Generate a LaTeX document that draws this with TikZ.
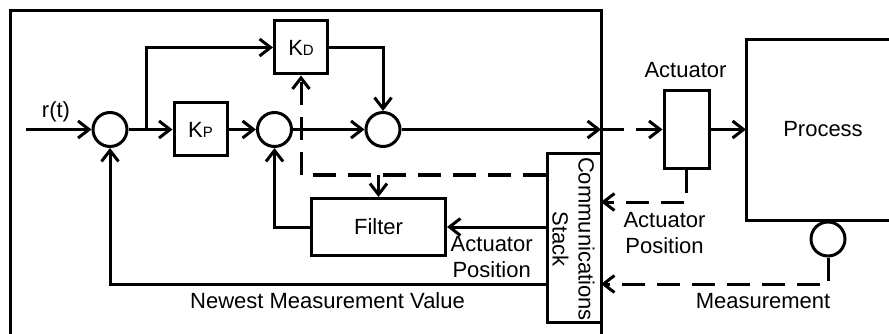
\documentclass[tikz,border=0pt]{standalone}
\usepackage{fontspec}
\setmainfont{Liberation Sans}
\usetikzlibrary{arrows.meta}
\begin{document}
\begin{tikzpicture}[x=1pt,y=-1pt,line width=3pt,
  every node/.style={font=\fontsize{22}{26}\selectfont},
  arr/.style={-{Straight Barb[length=11pt,width=17pt]}},
  sumnode/.style={circle,draw,minimum size=34pt,inner sep=0pt},
  blk/.style={draw,minimum width=53pt,minimum height=53pt,inner sep=0pt},
  dsh/.style={dash pattern=on 23pt off 12pt},
  lbl/.style={align=center,inner sep=0pt}]
\useasboundingbox (0,0) rectangle (889,334);
% outer controller frame
\coordinate (fbl) at (10,334);
\coordinate (ftl) at (10,10.5);
\coordinate (ftr) at (601,10.5);
\coordinate (fbr) at (601,334);
\draw (fbl) -- (ftl) -- (ftr) -- (fbr);
% process frame
\coordinate (ptr) at (889,39.5);
\coordinate (ptl) at (746,39.5);
\coordinate (pbl) at (746,220);
\coordinate (pbr) at (889,220);
\draw (ptr) -- (ptl) -- (pbl) -- (pbr);
\node[lbl,anchor=base] (proclbl) at (823,136.7) {Process};
% controller blocks
\node[sumnode] (s1) at (110,129.5) {};
\node[sumnode] (s2) at (274.5,129.5) {};
\node[sumnode] (s3) at (383,129.5) {};
\node[blk] (kp) at (200.5,129.5) {K{\fontsize{15}{15}\selectfont P}};
\node[blk] (kd) at (301,47.5) {K{\fontsize{15}{15}\selectfont D}};
\node[draw,minimum width=134pt,minimum height=57pt,inner sep=0pt] (filt) at (378.5,227) {Filter};
\node[draw,minimum width=54pt,minimum height=169pt,inner sep=0pt] (comm) at (574,238) {};
\node[lbl,rotate=-90] (commlbl) at (573.5,239) {Communications\\Stack};
% actuator and sensor
\node[draw,minimum width=45pt,minimum height=78pt,inner sep=0pt] (act) at (686.5,129.5) {};
\node[lbl,anchor=base] (actlbl) at (685.5,77.7) {Actuator};
\node[sumnode] (sens) at (828,239) {};
% signal path
\coordinate (rin) at (26,129.5);
\node[lbl,anchor=base] (rlbl) at (56,118) {r(t)};
\draw[arr] (rin) -- (s1);
\coordinate (br) at (146,129.5);
\draw (s1) -- (br);
\draw[arr] (br) -- (kp);
\draw[arr] (br) |- (kd);
\draw[arr] (kp) -- (s2);
\draw[arr] (s2) -- (s3);
\draw[arr] (kd) -| (s3);
\coordinate (cb) at (601,129.5);
\draw[arr] (s3) -- (cb);
\draw[arr,dsh] (cb) -- (act);
\draw[arr] (act) -- (ptl |- act);
% network / feedback
\coordinate (ca) at (601,202);
\draw[arr,dsh] (act.south) |- (ca);
\node[lbl] (aplbl1) at (664.5,233) {Actuator\\Position};
\coordinate (cm) at (601,284);
\draw[arr,dsh] (sens.south) |- (cm);
\node[lbl,anchor=base] (mlbl) at (763,308) {Measurement};
\coordinate (cw1) at (546,175);
\draw[arr,dsh] (cw1) -| (kd.south);
\coordinate (fb) at (378.5,175);
\draw[arr] (fb) -- (filt.north);
\coordinate (cw2) at (547,227);
\draw[arr] (cw2) -- (filt.east);
\node[lbl] (aplbl2) at (491.7,257) {Actuator\\Position};
\draw[arr] (filt.west) -| (s2.south);
\coordinate (cw3) at (547,284);
\draw[arr] (cw3) -| (s1.south);
\node[lbl,anchor=base] (nmlbl) at (327.5,308.3) {Newest Measurement Value};
\end{tikzpicture}
\end{document}
